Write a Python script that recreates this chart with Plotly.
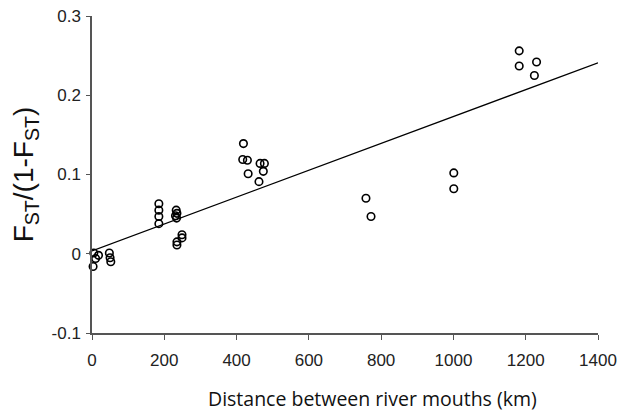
import plotly.graph_objects as go

# Data
distance_km = [5, 18, 10, 3,
               48, 50, 52,
               185, 185, 185, 185,
               233, 235, 231, 234,
               249, 249, 235, 235,
               419, 417, 430, 465, 477, 474, 432, 462,
               758, 772,
               1001, 1001,
               1182, 1182, 1230, 1224]
fst_ratio = [0.001, -0.002, -0.006, -0.016,
             0.001, -0.005, -0.010,
             0.063, 0.055, 0.047, 0.038,
             0.055, 0.051, 0.048, 0.045,
             0.024, 0.020, 0.015, 0.011,
             0.139, 0.119, 0.118, 0.114, 0.114, 0.104, 0.101, 0.091,
             0.070, 0.047,
             0.102, 0.082,
             0.256, 0.237, 0.242, 0.225]

trend_x = [0, 1400]
trend_y = [0.0035, 0.241]

x_ticks = [0, 200, 400, 600, 800, 1000, 1200, 1400]
y_ticks = [-0.1, 0, 0.1, 0.2, 0.3]
y_tick_labels = ["-0.1", "0", "0.1", "0.2", "0.3"]

fig = go.Figure()
fig.add_trace(go.Scatter(
    x=trend_x, y=trend_y, mode="lines",
    line=dict(color="black", width=1.2), showlegend=False, hoverinfo="skip"))
fig.add_trace(go.Scatter(
    x=distance_km, y=fst_ratio, mode="markers", cliponaxis=False,
    marker=dict(symbol="circle-open", size=7.5, color="black",
                line=dict(width=1.6, color="black")),
    showlegend=False))

axis_font = dict(family="Liberation Sans, Arial, sans-serif", size=17, color="#222")

fig.update_layout(
    width=617, height=415,
    margin=dict(l=92, r=19, t=16, b=82, autoexpand=False),
    paper_bgcolor="white", plot_bgcolor="white",
    xaxis=dict(range=[0, 1400], tickvals=x_ticks, ticks="outside", ticklen=5,
               tickwidth=1.2, tickcolor="#555", showline=True, linecolor="#555",
               linewidth=1.5, showgrid=False, zeroline=False, tickfont=axis_font,
               ticklabelstandoff=6, automargin=False),
    yaxis=dict(range=[-0.1, 0.3], tickvals=y_ticks, ticktext=y_tick_labels,
               ticks="outside", ticklen=4, tickwidth=1.2, tickcolor="#555",
               showline=True, linecolor="#555", linewidth=1.5, showgrid=False,
               zeroline=False, tickfont=axis_font, ticklabelstandoff=2,
               automargin=False,
               title=dict(text="F<sub>ST</sub>/(1-F<sub>ST</sub>)",
                          font=dict(family="Liberation Sans, Arial, sans-serif",
                                    size=28, color="#111"),
                          standoff=10)),
    annotations=[dict(
        text="Distance between river mouths (km)", xref="paper", yref="paper",
        x=(372 - 92) / 506, y=-(398 - 333) / 317, xanchor="center", yanchor="middle",
        showarrow=False,
        font=dict(family="Open Sans, Noto Sans, sans-serif", size=19.5, color="#111"))],
)

fig.write_html("out.html", config={"displayModeBar": False},
               post_script="document.body.style.margin='0';document.body.style.overflow='hidden';")
